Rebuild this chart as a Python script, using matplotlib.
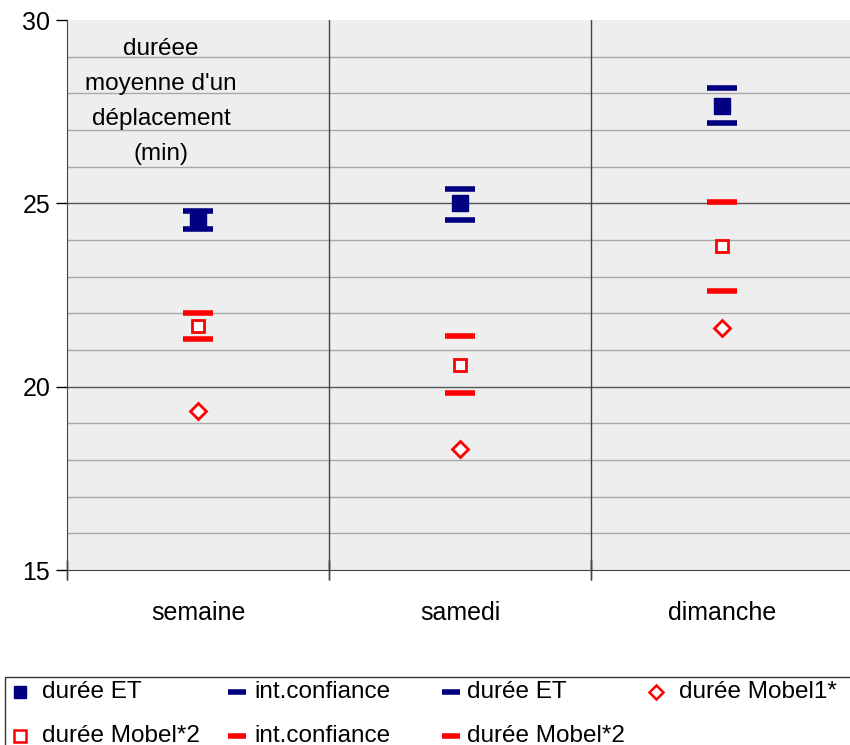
import matplotlib.pyplot as plt
import numpy as np
from matplotlib.lines import Line2D
from matplotlib.patches import Rectangle

plt.rcParams['font.family'] = ['Liberation Sans', 'DejaVu Sans']

jours = ["semaine", "samedi", "dimanche"]
duree_et = [24.55, 25.0, 27.65]
et_haut = [24.8, 25.38, 28.15]
et_bas = [24.3, 24.55, 27.2]
duree_mobel2 = [21.65, 20.6, 23.85]
mobel2_haut = [22.0, 21.38, 25.05]
mobel2_bas = [21.3, 19.82, 22.6]
duree_mobel1 = [19.35, 18.3, 21.6]

navy = "#000080"
rouge = "#ff0000"

fig = plt.figure(figsize=(8.5, 7.45), dpi=100)
ax = fig.add_axes([67 / 850, 175 / 745, 786 / 850, 550 / 745])
ax.set_facecolor("#eeeeee")

x = np.arange(len(jours))

# quadrillage horizontal : traits fins a chaque unite, plus marques aux multiples de 5
for v in range(16, 30):
    c = "#555555" if v % 5 == 0 else "#a8a8a8"
    ax.axhline(v, color=c, lw=1, zorder=1)
for b in [0.5, 1.5]:
    ax.axvline(b, color="#444444", lw=1, zorder=1)

ax.plot(x, et_haut, ls="none", marker="_", ms=22, mew=4, color=navy, zorder=3)
ax.plot(x, et_bas, ls="none", marker="_", ms=22, mew=4, color=navy, zorder=3)
ax.plot(x, duree_et, ls="none", marker="s", ms=11, color=navy, zorder=4)
ax.plot(x, mobel2_haut, ls="none", marker="_", ms=22, mew=4, color=rouge, zorder=3)
ax.plot(x, mobel2_bas, ls="none", marker="_", ms=22, mew=4, color=rouge, zorder=3)
ax.plot(x, duree_mobel2, ls="none", marker="s", ms=9, mfc="white", mec=rouge, mew=2, zorder=4)
ax.plot(x, duree_mobel1, ls="none", marker="D", ms=8, mfc="white", mec=rouge, mew=2, zorder=4)

ax.set_xlim(-0.5, 2.5)
ax.set_ylim(15, 30)
ax.set_yticks([15, 20, 25, 30])
ax.set_yticklabels(["15", "20", "25", "30"], fontsize=18)
ax.set_xticks(x)
ax.set_xticklabels(jours, fontsize=18)
ax.tick_params(axis="x", length=0, pad=22)
ax.tick_params(axis="y", length=8, width=1, direction="out", pad=4)
for b in [-0.5, 0.5, 1.5]:
    ax.plot([b, b], [15, 15], marker="|", ms=14, mew=1, color="#444444", clip_on=False)
for s in ["top", "right"]:
    ax.spines[s].set_visible(False)
ax.spines["left"].set_color("#444444")
ax.spines["bottom"].set_color("#444444")

ax.text(-0.141, 29.5, "duréee\nmoyenne d'un\ndéplacement\n(min)", ha="center", va="top",
        fontsize=17.5, linespacing=1.76)

# legende dessinee a la main, remplie ligne par ligne
fig.add_artist(Rectangle((5 / 850, -0.01), 0.995, 75 / 745, transform=fig.transFigure,
                         fill=False, edgecolor="#333333", lw=1))
entrees = [
    (20, 42, 692, dict(marker="s", ms=8, color=navy), "durée ET"),
    (237, 254, 692, dict(marker="_", ms=13, mew=4, color=navy), "int.confiance"),
    (451, 467, 692, dict(marker="_", ms=13, mew=4, color=navy), "durée ET"),
    (656, 679, 692, dict(marker="D", ms=7, mfc="white", mec=rouge, mew=1.8), "durée Mobel1*"),
    (20, 42, 736, dict(marker="s", ms=8, mfc="white", mec=rouge, mew=1.8), "durée Mobel*2"),
    (237, 254, 736, dict(marker="_", ms=13, mew=4, color=rouge), "int.confiance"),
    (451, 467, 736, dict(marker="_", ms=13, mew=4, color=rouge), "durée Mobel*2"),
]
for mx, tx, py, style, lab in entrees:
    yf = 1 - py / 745
    fig.add_artist(Line2D([mx / 850], [yf], transform=fig.transFigure, ls="none", **style))
    fig.text(tx / 850, yf, lab, fontsize=17.5, va="center", ha="left")

fig.savefig("out.png", dpi=100)
